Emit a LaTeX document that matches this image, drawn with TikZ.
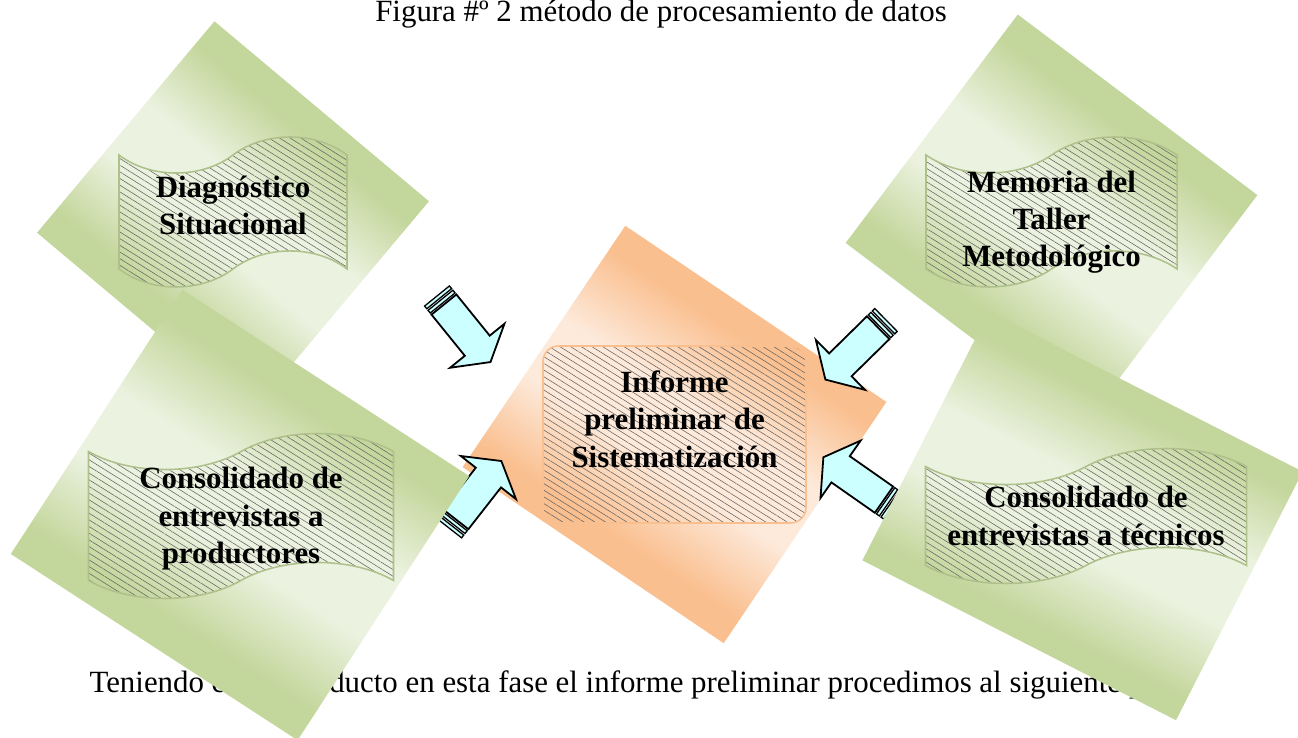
\documentclass[tikz,border=0pt]{standalone}
\usepackage{fontspec}
\setmainfont{Liberation Serif}
\usetikzlibrary{shapes.symbols, patterns.meta}

\definecolor{verdeosc}{RGB}{195,214,155}
\definecolor{verdecla}{RGB}{236,242,224}
\definecolor{naranjaosc}{RGB}{250,191,143}
\definecolor{naranjacla}{RGB}{253,234,219}
\definecolor{celeste}{RGB}{204,255,255}

% light band across the squares
\pgfdeclareverticalshading{bandaverde}{100bp}{color(0bp)=(verdeosc); color(36bp)=(verdeosc);
	color(46bp)=(verdecla); color(54bp)=(verdecla); color(64bp)=(verdeosc); color(100bp)=(verdeosc)}
\pgfdeclareverticalshading{bandanaranja}{100bp}{color(0bp)=(naranjaosc); color(36bp)=(naranjaosc);
	color(46bp)=(naranjacla); color(54bp)=(naranjacla); color(64bp)=(naranjaosc); color(100bp)=(naranjaosc)}

% one pixel of the reference
\newcommand{\pxu}{0.3885pt}

\tikzset{
	cuadro/.style = {rectangle, inner sep = 0pt, shade, shading = bandaverde},
	cuadronar/.style = {rectangle, inner sep = 0pt, shade, shading = bandanaranja},
	rayado/.style = {pattern = {Lines[angle = -32, distance = 2.2pt, line width = 0.22pt]}, pattern color = black!60},
	cinta/.style = {tape, tape bend top = in and out, tape bend bottom = in and out, tape bend height = 14pt,
	rayado, draw = verdeosc!90!black, line width = 0.6pt, inner sep = 0pt},
	rotulo/.style = {align = center, inner sep = 0pt, font = \fontsize{12}{14.5}\selectfont\bfseries},
	flechafill/.style = {fill = celeste, draw = black, line width = 0.7pt},
	pics/flecha/.style = {code = {
		\draw [flechafill, line width = 0.5pt] (0,-16) rectangle (3.5,16);
		\draw [flechafill, line width = 0.5pt] (5.5,-16) rectangle (9,16);
		\draw [flechafill] (11,-16) -- (64,-16) -- (64,-35) -- (85,0) -- (64,35) -- (64,16) -- (11,16) -- cycle;
	}}
}

\begin{document}
\begin{tikzpicture} [x = \pxu, y = -\pxu, font = \fontsize{12}{14.5}\selectfont]
	\useasboundingbox (0,0) rectangle (1298,738);

	% Texts of the page behind the figure
	\node (titulo) [anchor = base, inner sep = 0pt] at (661,22) {Figura \#º 2 método de procesamiento de datos};
	\node (texto) [anchor = base west, inner sep = 0pt] at (89,692)
	{Teniendo como producto en esta fase el informe preliminar procedimos al siguiente paso};

	% Middle : the report
	\node (informe) [cuadronar, rotate = -34, shading angle = -34, minimum width = 315*\pxu, minimum height = 291*\pxu] at (674.5,434.5) {};
	\node (infbox) [rayado, draw = naranjaosc, line width = 0.6pt, rounded corners = 6pt,
	minimum width = 263*\pxu, minimum height = 177*\pxu] at (674.5,434.5) {};
	\node (inftxt) [rotulo] at ([yshift = 6pt] infbox.center) {Informe\\preliminar de\\Sistematización};

	% Arrows into the report
	\pic [rotate = -51] at (437,296) {flecha};
	\pic [rotate = -135.5] at (886,320) {flecha};
	\pic [rotate = 52] at (449,528) {flecha};
	\pic [rotate = 145] at (893,506) {flecha};

	% Sources : upper pair
	\node (diag) [cuadro, rotate = -40, shading angle = -40, minimum width = 280*\pxu, minimum height = 276*\pxu] at (233,217) {};
	\node (diagdoc) [cinta, minimum width = 228*\pxu, minimum height = 150*\pxu] at (233,212) {};
	\node (diagtxt) [rotulo] at ([yshift = 2.5pt] diagdoc.center) {Diagnóstico\\Situacional};

	\node (memoria) [cuadro, rotate = -37, shading angle = -37, minimum width = 300*\pxu, minimum height = 286*\pxu] at (1051.5,219) {};
	\node (memdoc) [cinta, minimum width = 251*\pxu, minimum height = 150*\pxu] at (1051.5,212) {};
	\node (memtxt) [rotulo] at ([yshift = -4pt] memdoc.center) {Memoria del\\Taller\\Metodológico};

	% Sources : lower pair
	\node (prod) [cuadro, rotate = -33, shading angle = -33, minimum width = 342*\pxu, minimum height = 315*\pxu] at (240,515) {};
	\node (proddoc) [cinta, minimum width = 305*\pxu, minimum height = 165*\pxu] at (241,516) {};
	\node (prodtxt) [rotulo] at ([yshift = -1pt] proddoc.center) {Consolidado de\\entrevistas a\\productores};

	\node (tecn) [cuadro, rotate = -27, shading angle = -27, minimum width = 352*\pxu, minimum height = 279*\pxu] at (1082.5,516) {};
	\node (tecndoc) [cinta, minimum width = 321*\pxu, minimum height = 135*\pxu] at (1086,516) {};
	\node (tecntxt) [rotulo] at (tecndoc.center) {Consolidado de\\entrevistas a técnicos};
\end{tikzpicture}
\end{document}
